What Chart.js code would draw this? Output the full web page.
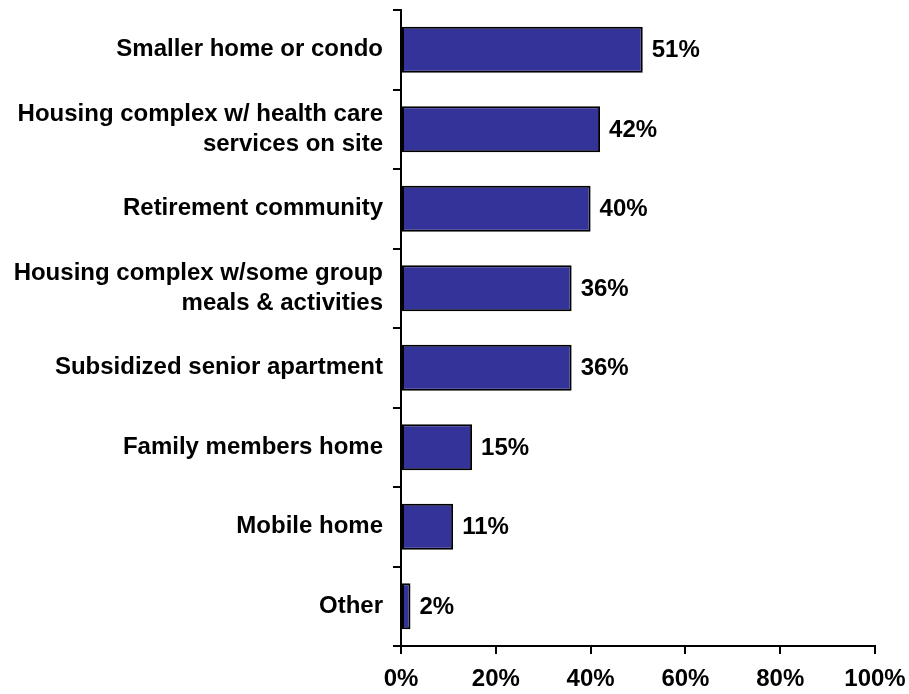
<!DOCTYPE html>
<html>
<head>
<meta charset="utf-8">
<script src="https://cdn.jsdelivr.net/npm/chart.js@4"></script>
<style>
  html, body { margin: 0; padding: 0; background: #fff; }
  #wrap { width: 909px; height: 694px; }
</style>
</head>
<body>
<div id="wrap"><canvas id="chart-housing"></canvas></div>
<script>
// Categories (top to bottom) and values in percent
const categories = [
    'Smaller home or condo',
    ['Housing complex w/ health care', 'services on site'],
    'Retirement community',
    ['Housing complex w/some group', 'meals & activities'],
    'Subsidized senior apartment',
    'Family members home',
    'Mobile home',
    'Other'
];
const values = [51, 42, 40, 36, 36, 15, 11, 2];
const xTicks = [0, 20, 40, 60, 80, 100];

const FONT = { family: 'Arial, "Liberation Sans", sans-serif', size: 24, weight: 'bold' };

// Draw value labels just past the end of each bar
const valueLabels = {
    id: 'valueLabels',
    afterDatasetsDraw(chart) {
        const ctx = chart.ctx;
        const meta = chart.getDatasetMeta(0);
        ctx.save();
        ctx.font = `bold ${FONT.size}px ${FONT.family}`;
        ctx.fillStyle = '#000';
        ctx.textAlign = 'left';
        ctx.textBaseline = 'middle';
        meta.data.forEach((bar, i) => {
            ctx.fillText(values[i] + '%', bar.x + 9, bar.y + 1);
        });
        ctx.restore();
    }
};

const ctxHousing = document.getElementById('chart-housing');
new Chart(ctxHousing, {
    type: 'bar',
    data: {
        labels: categories,
        datasets: [{
            data: values,
            backgroundColor: '#333399',
            borderColor: '#000',
            borderWidth: 2,
            borderSkipped: false,
            categoryPercentage: 1,
            barPercentage: 0.58
        }]
    },
    options: {
        indexAxis: 'y',
        responsive: true,
        maintainAspectRatio: false,
        animation: false,
        layout: { padding: { top: 10, right: 34, left: 0, bottom: 0 } },
        plugins: { legend: { display: false }, tooltip: { enabled: false } },
        scales: {
            x: {
                min: 0,
                max: 100,
                afterBuildTicks: (scale) => { scale.ticks = xTicks.map(v => ({ value: v })); },
                afterFit: (scale) => { scale.height = 48; scale.paddingLeft = 0; scale.paddingRight = 0; },
                border: { display: true, color: '#000', width: 2 },
                grid: { drawOnChartArea: false, drawTicks: true, tickLength: 8, color: '#000', lineWidth: 2 },
                ticks: {
                    color: '#000',
                    font: FONT,
                    padding: 11,
                    callback: (v) => v + '%'
                }
            },
            y: {
                afterFit: (scale) => { scale.width = 401; scale.paddingTop = 0; scale.paddingBottom = 0; },
                border: { display: true, color: '#000', width: 2 },
                grid: { offset: true, drawOnChartArea: false, drawTicks: true, tickLength: 8, color: '#000', lineWidth: 2 },
                ticks: {
                    color: '#000',
                    font: { ...FONT, lineHeight: 1.26 },
                    padding: 10,
                    crossAlign: 'near'
                }
            }
        }
    },
    plugins: [valueLabels]
});
</script>
</body>
</html>
